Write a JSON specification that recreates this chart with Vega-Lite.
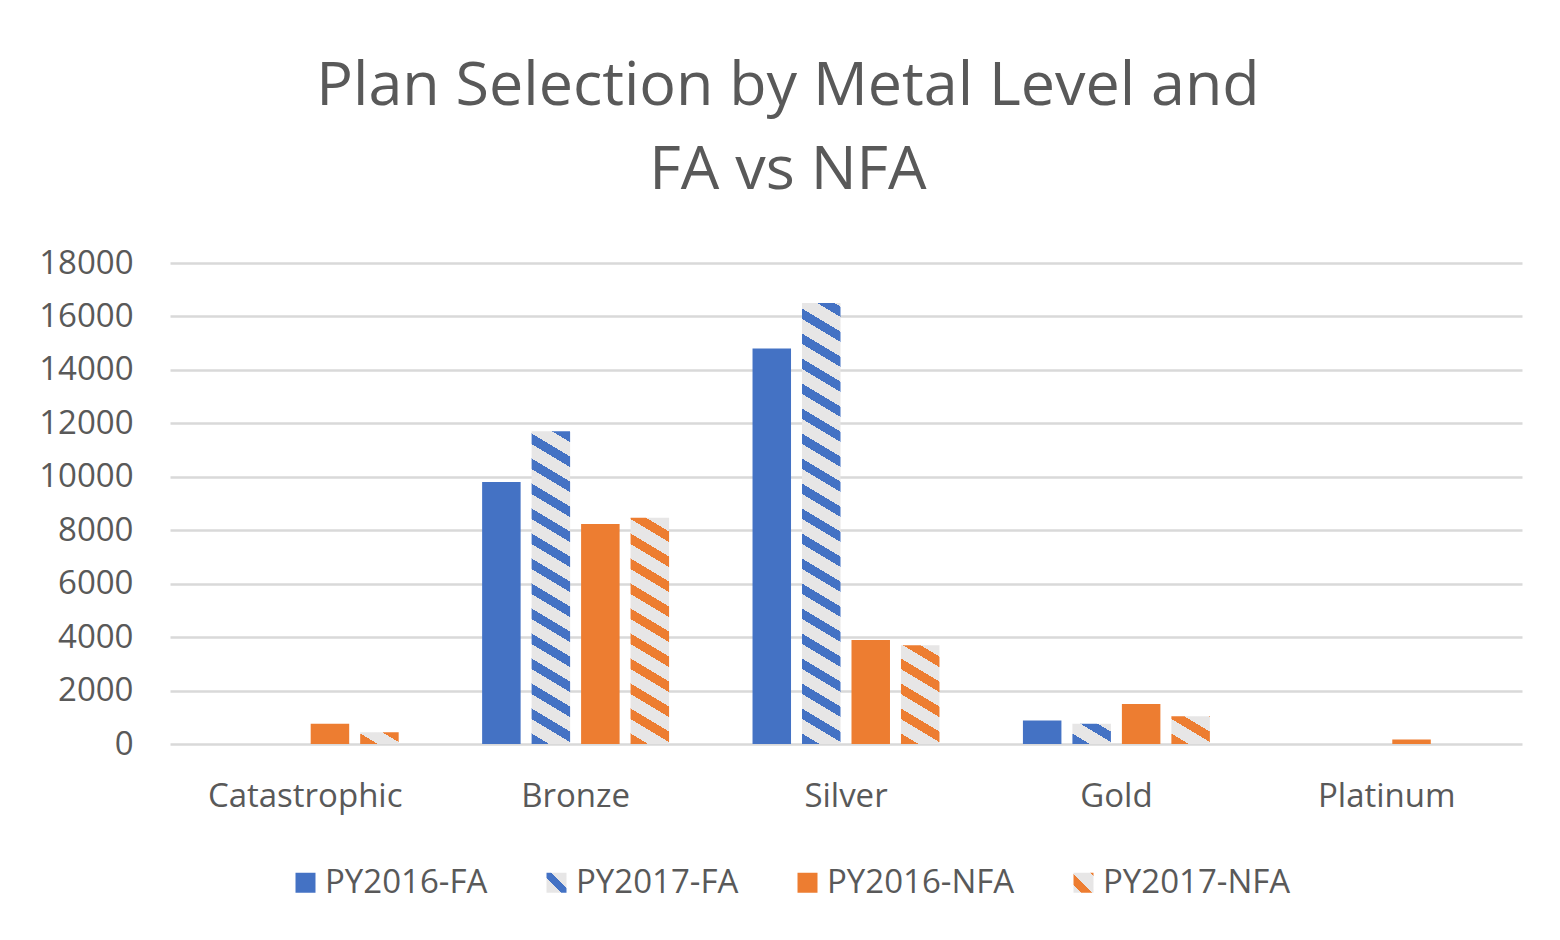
{
  "$schema": "https://vega.github.io/schema/vega-lite/v6.json",
  "width": 1352,
  "height": 481,
  "autosize": {"type": "none"},
  "padding": {"left": 170, "top": 263, "right": 38, "bottom": 196},
  "background": "white",
  "config": {
    "view": {"stroke": null},
    "font": "Open Sans"
  },
  "title": {
    "text": ["Plan Selection by Metal Level and", "FA vs NFA"],
    "font": "Open Sans",
    "fontSize": 61,
    "fontWeight": "normal",
    "color": "#595959",
    "anchor": "middle",
    "frame": "group",
    "dx": -58,
    "lineHeight": 84,
    "offset": 45
  },
  "data": {
    "values": [
      {"metal": "Catastrophic", "series": "PY2016-FA", "value": 0},
      {"metal": "Catastrophic", "series": "PY2017-FA", "value": 0},
      {"metal": "Catastrophic", "series": "PY2016-NFA", "value": 760},
      {"metal": "Catastrophic", "series": "PY2017-NFA", "value": 440},
      {"metal": "Bronze", "series": "PY2016-FA", "value": 9800},
      {"metal": "Bronze", "series": "PY2017-FA", "value": 11700},
      {"metal": "Bronze", "series": "PY2016-NFA", "value": 8230},
      {"metal": "Bronze", "series": "PY2017-NFA", "value": 8470},
      {"metal": "Silver", "series": "PY2016-FA", "value": 14800},
      {"metal": "Silver", "series": "PY2017-FA", "value": 16500},
      {"metal": "Silver", "series": "PY2016-NFA", "value": 3890},
      {"metal": "Silver", "series": "PY2017-NFA", "value": 3700},
      {"metal": "Gold", "series": "PY2016-FA", "value": 880},
      {"metal": "Gold", "series": "PY2017-FA", "value": 760},
      {"metal": "Gold", "series": "PY2016-NFA", "value": 1500},
      {"metal": "Gold", "series": "PY2017-NFA", "value": 1040},
      {"metal": "Platinum", "series": "PY2016-FA", "value": 0},
      {"metal": "Platinum", "series": "PY2017-FA", "value": 0},
      {"metal": "Platinum", "series": "PY2016-NFA", "value": 170},
      {"metal": "Platinum", "series": "PY2017-NFA", "value": 0}
    ]
  },
  "encoding": {
    "x": {
      "field": "metal",
      "type": "nominal",
      "title": null,
      "scale": {"domain": ["Catastrophic", "Bronze", "Silver", "Gold", "Platinum"], "paddingInner": 0.268, "paddingOuter": 0.134},
      "axis": {
        "domain": false,
        "ticks": false,
        "grid": false,
        "labelAngle": 0,
        "labelLimit": 500,
        "labelFont": "Open Sans",
        "labelFontSize": 33,
        "labelColor": "#595959",
        "labelPadding": 36
      }
    },
    "xOffset": {
      "field": "series",
      "type": "nominal",
      "scale": {"domain": ["PY2016-FA", "PY2017-FA", "PY2016-NFA", "PY2017-NFA"], "paddingInner": 0.222, "paddingOuter": 0.111}
    },
    "y": {
      "field": "value",
      "type": "quantitative",
      "title": null,
      "scale": {"domain": [0, 18000], "nice": false},
      "axis": {
        "values": [0, 2000, 4000, 6000, 8000, 10000, 12000, 14000, 16000, 18000],
        "format": "d",
        "domain": false,
        "ticks": false,
        "grid": true,
        "gridColor": "#D9D9D9",
        "gridWidth": 2.5,
        "labelFont": "Open Sans",
        "labelFontSize": 33,
        "labelColor": "#595959",
        "labelPadding": 37
      }
    }
  },
  "layer": [
    {
      "transform": [{"filter": "datum.series === 'PY2016-FA'"}],
      "mark": {"type": "bar", "fill": "#4472C4"},
      "encoding": {
        "opacity": {
          "field": "series",
          "type": "nominal",
          "scale": {"domain": ["PY2016-FA", "PY2017-FA", "PY2016-NFA", "PY2017-NFA"], "range": [1, 1, 1, 1]},
          "legend": {
            "title": null,
            "orient": "none",
            "legendX": 119,
            "legendY": 603,
            "direction": "horizontal",
            "symbolType": "square",
            "symbolSize": 400,
            "symbolStrokeWidth": 0,
            "labelFont": "Open Sans",
            "labelFontSize": 33,
            "labelColor": "#595959",
            "labelLimit": 400,
            "labelOffset": 3,
            "columnPadding": 52,
            "padding": 0,
            "encoding": {
              "symbols": {
                "fill": {
                  "condition": [
                    {"test": "datum.value === 'PY2016-FA'", "value": "#4472C4"},
                    {"test": "datum.value === 'PY2017-FA'", "value": {"gradient": "linear", "x1": 0, "y1": 1, "x2": 1, "y2": 0, "stops": [
                      {"offset": 0, "color": "#E7E6E6"}, {"offset": 0.38, "color": "#E7E6E6"}, {"offset": 0.38, "color": "#4472C4"}, {"offset": 0.62, "color": "#4472C4"}, {"offset": 0.62, "color": "#E7E6E6"}, {"offset": 1, "color": "#E7E6E6"}]}},
                    {"test": "datum.value === 'PY2017-NFA'", "value": {"gradient": "linear", "x1": 0, "y1": 1, "x2": 1, "y2": 0, "stops": [
                      {"offset": 0, "color": "#E7E6E6"}, {"offset": 0.2, "color": "#E7E6E6"}, {"offset": 0.2, "color": "#ED7D31"}, {"offset": 0.46, "color": "#ED7D31"}, {"offset": 0.46, "color": "#E7E6E6"}, {"offset": 0.92, "color": "#E7E6E6"}, {"offset": 0.92, "color": "#ED7D31"}, {"offset": 1, "color": "#ED7D31"}]}}
                  ],
                  "value": "#ED7D31"
                }
              }
            }
          }
        }
      }
    },
    {
      "transform": [{"filter": "datum.series === 'PY2016-NFA'"}],
      "mark": {"type": "bar", "fill": "#ED7D31"}
    },
    {
      "transform": [{"filter": "datum.metal === 'Catastrophic' && datum.series === 'PY2017-NFA'"}],
      "mark": {"type": "bar", "fill": {"gradient": "linear", "x1": 0, "y1": 1, "x2": 1.1985, "y2": 0.38996, "stops": [
        {"offset": 0, "color": "#ED7D31"}, {"offset": 0.3012, "color": "#ED7D31"}, {"offset": 0.3012, "color": "#E7E6E6"}, {"offset": 0.7172, "color": "#E7E6E6"},
        {"offset": 0.7172, "color": "#ED7D31"}, {"offset": 1, "color": "#ED7D31"}]}}
    },
    {
      "transform": [{"filter": "datum.metal === 'Bronze' && datum.series === 'PY2017-FA'"}],
      "mark": {"type": "bar", "fill": {"gradient": "linear", "x1": 0, "y1": 1, "x2": 0.078913, "y2": -0.06805, "stops": [
        {"offset": 0, "color": "#4472C4"}, {"offset": 0.03127, "color": "#4472C4"}, {"offset": 0.03127, "color": "#E7E6E6"}, {"offset": 0.07446, "color": "#E7E6E6"},
        {"offset": 0.07446, "color": "#4472C4"}, {"offset": 0.10573, "color": "#4472C4"}, {"offset": 0.10573, "color": "#E7E6E6"}, {"offset": 0.14892, "color": "#E7E6E6"},
        {"offset": 0.14892, "color": "#4472C4"}, {"offset": 0.18019, "color": "#4472C4"}, {"offset": 0.18019, "color": "#E7E6E6"}, {"offset": 0.22338, "color": "#E7E6E6"},
        {"offset": 0.22338, "color": "#4472C4"}, {"offset": 0.25465, "color": "#4472C4"}, {"offset": 0.25465, "color": "#E7E6E6"}, {"offset": 0.29784, "color": "#E7E6E6"},
        {"offset": 0.29784, "color": "#4472C4"}, {"offset": 0.32911, "color": "#4472C4"}, {"offset": 0.32911, "color": "#E7E6E6"}, {"offset": 0.3723, "color": "#E7E6E6"},
        {"offset": 0.3723, "color": "#4472C4"}, {"offset": 0.40357, "color": "#4472C4"}, {"offset": 0.40357, "color": "#E7E6E6"}, {"offset": 0.44676, "color": "#E7E6E6"},
        {"offset": 0.44676, "color": "#4472C4"}, {"offset": 0.47803, "color": "#4472C4"}, {"offset": 0.47803, "color": "#E7E6E6"}, {"offset": 0.52122, "color": "#E7E6E6"},
        {"offset": 0.52122, "color": "#4472C4"}, {"offset": 0.55249, "color": "#4472C4"}, {"offset": 0.55249, "color": "#E7E6E6"}, {"offset": 0.59568, "color": "#E7E6E6"},
        {"offset": 0.59568, "color": "#4472C4"}, {"offset": 0.62695, "color": "#4472C4"}, {"offset": 0.62695, "color": "#E7E6E6"}, {"offset": 0.67014, "color": "#E7E6E6"},
        {"offset": 0.67014, "color": "#4472C4"}, {"offset": 0.70141, "color": "#4472C4"}, {"offset": 0.70141, "color": "#E7E6E6"}, {"offset": 0.7446, "color": "#E7E6E6"},
        {"offset": 0.7446, "color": "#4472C4"}, {"offset": 0.77587, "color": "#4472C4"}, {"offset": 0.77587, "color": "#E7E6E6"}, {"offset": 0.81906, "color": "#E7E6E6"},
        {"offset": 0.81906, "color": "#4472C4"}, {"offset": 0.85033, "color": "#4472C4"}, {"offset": 0.85033, "color": "#E7E6E6"}, {"offset": 0.89352, "color": "#E7E6E6"},
        {"offset": 0.89352, "color": "#4472C4"}, {"offset": 0.92479, "color": "#4472C4"}, {"offset": 0.92479, "color": "#E7E6E6"}, {"offset": 0.96798, "color": "#E7E6E6"},
        {"offset": 0.96798, "color": "#4472C4"}, {"offset": 0.99925, "color": "#4472C4"}, {"offset": 0.99925, "color": "#E7E6E6"}, {"offset": 1, "color": "#E7E6E6"}]}}
    },
    {
      "transform": [{"filter": "datum.metal === 'Bronze' && datum.series === 'PY2017-NFA'"}],
      "mark": {"type": "bar", "fill": {"gradient": "linear", "x1": 0, "y1": 1, "x2": 0.11132, "y2": -0.09071, "stops": [
        {"offset": 0, "color": "#ED7D31"}, {"offset": 0.04209, "color": "#ED7D31"}, {"offset": 0.04209, "color": "#E7E6E6"}, {"offset": 0.10022, "color": "#E7E6E6"},
        {"offset": 0.10022, "color": "#ED7D31"}, {"offset": 0.14232, "color": "#ED7D31"}, {"offset": 0.14232, "color": "#E7E6E6"}, {"offset": 0.20045, "color": "#E7E6E6"},
        {"offset": 0.20045, "color": "#ED7D31"}, {"offset": 0.24254, "color": "#ED7D31"}, {"offset": 0.24254, "color": "#E7E6E6"}, {"offset": 0.30067, "color": "#E7E6E6"},
        {"offset": 0.30067, "color": "#ED7D31"}, {"offset": 0.34276, "color": "#ED7D31"}, {"offset": 0.34276, "color": "#E7E6E6"}, {"offset": 0.4009, "color": "#E7E6E6"},
        {"offset": 0.4009, "color": "#ED7D31"}, {"offset": 0.44299, "color": "#ED7D31"}, {"offset": 0.44299, "color": "#E7E6E6"}, {"offset": 0.50112, "color": "#E7E6E6"},
        {"offset": 0.50112, "color": "#ED7D31"}, {"offset": 0.54321, "color": "#ED7D31"}, {"offset": 0.54321, "color": "#E7E6E6"}, {"offset": 0.60134, "color": "#E7E6E6"},
        {"offset": 0.60134, "color": "#ED7D31"}, {"offset": 0.64344, "color": "#ED7D31"}, {"offset": 0.64344, "color": "#E7E6E6"}, {"offset": 0.70157, "color": "#E7E6E6"},
        {"offset": 0.70157, "color": "#ED7D31"}, {"offset": 0.74366, "color": "#ED7D31"}, {"offset": 0.74366, "color": "#E7E6E6"}, {"offset": 0.80179, "color": "#E7E6E6"},
        {"offset": 0.80179, "color": "#ED7D31"}, {"offset": 0.84388, "color": "#ED7D31"}, {"offset": 0.84388, "color": "#E7E6E6"}, {"offset": 0.90202, "color": "#E7E6E6"},
        {"offset": 0.90202, "color": "#ED7D31"}, {"offset": 0.94411, "color": "#ED7D31"}, {"offset": 0.94411, "color": "#E7E6E6"}, {"offset": 1, "color": "#E7E6E6"}]}}
    },
    {
      "transform": [{"filter": "datum.metal === 'Silver' && datum.series === 'PY2017-FA'"}],
      "mark": {"type": "bar", "fill": {"gradient": "linear", "x1": 0, "y1": 1, "x2": 0.054985, "y2": -0.04952, "stops": [
        {"offset": 0, "color": "#4472C4"}, {"offset": 0.02263, "color": "#4472C4"}, {"offset": 0.02263, "color": "#E7E6E6"}, {"offset": 0.05388, "color": "#E7E6E6"},
        {"offset": 0.05388, "color": "#4472C4"}, {"offset": 0.07651, "color": "#4472C4"}, {"offset": 0.07651, "color": "#E7E6E6"}, {"offset": 0.10775, "color": "#E7E6E6"},
        {"offset": 0.10775, "color": "#4472C4"}, {"offset": 0.13038, "color": "#4472C4"}, {"offset": 0.13038, "color": "#E7E6E6"}, {"offset": 0.16163, "color": "#E7E6E6"},
        {"offset": 0.16163, "color": "#4472C4"}, {"offset": 0.18426, "color": "#4472C4"}, {"offset": 0.18426, "color": "#E7E6E6"}, {"offset": 0.21551, "color": "#E7E6E6"},
        {"offset": 0.21551, "color": "#4472C4"}, {"offset": 0.23814, "color": "#4472C4"}, {"offset": 0.23814, "color": "#E7E6E6"}, {"offset": 0.26939, "color": "#E7E6E6"},
        {"offset": 0.26939, "color": "#4472C4"}, {"offset": 0.29201, "color": "#4472C4"}, {"offset": 0.29201, "color": "#E7E6E6"}, {"offset": 0.32326, "color": "#E7E6E6"},
        {"offset": 0.32326, "color": "#4472C4"}, {"offset": 0.34589, "color": "#4472C4"}, {"offset": 0.34589, "color": "#E7E6E6"}, {"offset": 0.37714, "color": "#E7E6E6"},
        {"offset": 0.37714, "color": "#4472C4"}, {"offset": 0.39977, "color": "#4472C4"}, {"offset": 0.39977, "color": "#E7E6E6"}, {"offset": 0.43102, "color": "#E7E6E6"},
        {"offset": 0.43102, "color": "#4472C4"}, {"offset": 0.45364, "color": "#4472C4"}, {"offset": 0.45364, "color": "#E7E6E6"}, {"offset": 0.48489, "color": "#E7E6E6"},
        {"offset": 0.48489, "color": "#4472C4"}, {"offset": 0.50752, "color": "#4472C4"}, {"offset": 0.50752, "color": "#E7E6E6"}, {"offset": 0.53877, "color": "#E7E6E6"},
        {"offset": 0.53877, "color": "#4472C4"}, {"offset": 0.5614, "color": "#4472C4"}, {"offset": 0.5614, "color": "#E7E6E6"}, {"offset": 0.59265, "color": "#E7E6E6"},
        {"offset": 0.59265, "color": "#4472C4"}, {"offset": 0.61527, "color": "#4472C4"}, {"offset": 0.61527, "color": "#E7E6E6"}, {"offset": 0.64652, "color": "#E7E6E6"},
        {"offset": 0.64652, "color": "#4472C4"}, {"offset": 0.66915, "color": "#4472C4"}, {"offset": 0.66915, "color": "#E7E6E6"}, {"offset": 0.7004, "color": "#E7E6E6"},
        {"offset": 0.7004, "color": "#4472C4"}, {"offset": 0.72303, "color": "#4472C4"}, {"offset": 0.72303, "color": "#E7E6E6"}, {"offset": 0.75428, "color": "#E7E6E6"},
        {"offset": 0.75428, "color": "#4472C4"}, {"offset": 0.7769, "color": "#4472C4"}, {"offset": 0.7769, "color": "#E7E6E6"}, {"offset": 0.80816, "color": "#E7E6E6"},
        {"offset": 0.80816, "color": "#4472C4"}, {"offset": 0.83078, "color": "#4472C4"}, {"offset": 0.83078, "color": "#E7E6E6"}, {"offset": 0.86203, "color": "#E7E6E6"},
        {"offset": 0.86203, "color": "#4472C4"}, {"offset": 0.88466, "color": "#4472C4"}, {"offset": 0.88466, "color": "#E7E6E6"}, {"offset": 0.91591, "color": "#E7E6E6"},
        {"offset": 0.91591, "color": "#4472C4"}, {"offset": 0.93854, "color": "#4472C4"}, {"offset": 0.93854, "color": "#E7E6E6"}, {"offset": 0.96979, "color": "#E7E6E6"},
        {"offset": 0.96979, "color": "#4472C4"}, {"offset": 0.99241, "color": "#4472C4"}, {"offset": 0.99241, "color": "#E7E6E6"}, {"offset": 1, "color": "#E7E6E6"}]}}
    },
    {
      "transform": [{"filter": "datum.metal === 'Silver' && datum.series === 'PY2017-NFA'"}],
      "mark": {"type": "bar", "fill": {"gradient": "linear", "x1": 0, "y1": 1, "x2": 0.2733, "y2": -0.16976, "stops": [
        {"offset": 0, "color": "#ED7D31"}, {"offset": 0.08609, "color": "#ED7D31"}, {"offset": 0.08609, "color": "#E7E6E6"}, {"offset": 0.20497, "color": "#E7E6E6"},
        {"offset": 0.20497, "color": "#ED7D31"}, {"offset": 0.29106, "color": "#ED7D31"}, {"offset": 0.29106, "color": "#E7E6E6"}, {"offset": 0.40994, "color": "#E7E6E6"},
        {"offset": 0.40994, "color": "#ED7D31"}, {"offset": 0.49603, "color": "#ED7D31"}, {"offset": 0.49603, "color": "#E7E6E6"}, {"offset": 0.61491, "color": "#E7E6E6"},
        {"offset": 0.61491, "color": "#ED7D31"}, {"offset": 0.701, "color": "#ED7D31"}, {"offset": 0.701, "color": "#E7E6E6"}, {"offset": 0.81988, "color": "#E7E6E6"},
        {"offset": 0.81988, "color": "#ED7D31"}, {"offset": 0.90597, "color": "#ED7D31"}, {"offset": 0.90597, "color": "#E7E6E6"}, {"offset": 1, "color": "#E7E6E6"}]}}
    },
    {
      "transform": [{"filter": "datum.metal === 'Gold' && datum.series === 'PY2017-FA'"}],
      "mark": {"type": "bar", "fill": {"gradient": "linear", "x1": 0, "y1": 1, "x2": 1.05992, "y2": 0.06814, "stops": [
        {"offset": 0, "color": "#4472C4"}, {"offset": 0.24189, "color": "#4472C4"}, {"offset": 0.24189, "color": "#E7E6E6"}, {"offset": 0.57592, "color": "#E7E6E6"},
        {"offset": 0.57592, "color": "#4472C4"}, {"offset": 0.81781, "color": "#4472C4"}, {"offset": 0.81781, "color": "#E7E6E6"}, {"offset": 1, "color": "#E7E6E6"}]}}
    },
    {
      "transform": [{"filter": "datum.metal === 'Gold' && datum.series === 'PY2017-NFA'"}],
      "mark": {"type": "bar", "fill": {"gradient": "linear", "x1": 0, "y1": 1, "x2": 0.90018, "y2": -0.08299, "stops": [
        {"offset": 0, "color": "#ED7D31"}, {"offset": 0.20632, "color": "#ED7D31"}, {"offset": 0.20632, "color": "#E7E6E6"}, {"offset": 0.49124, "color": "#E7E6E6"},
        {"offset": 0.49124, "color": "#ED7D31"}, {"offset": 0.69756, "color": "#ED7D31"}, {"offset": 0.69756, "color": "#E7E6E6"}, {"offset": 0.98248, "color": "#E7E6E6"},
        {"offset": 0.98248, "color": "#ED7D31"}, {"offset": 1, "color": "#ED7D31"}]}}
    }
  ]
}
